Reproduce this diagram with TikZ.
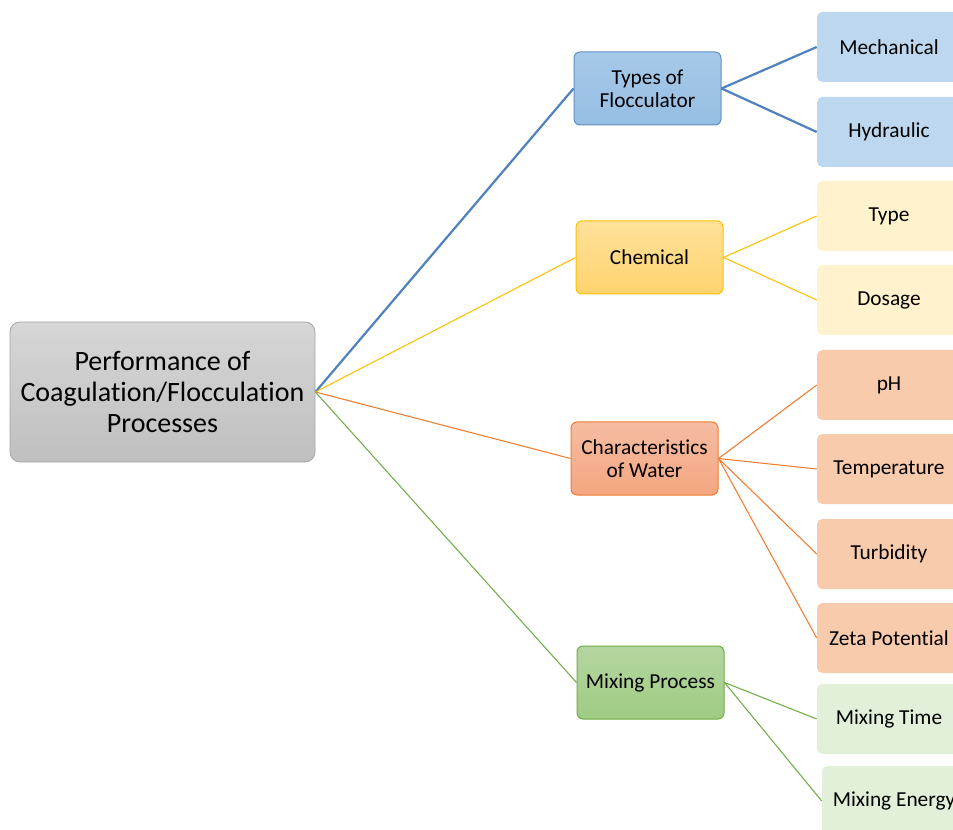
\documentclass[tikz,border=0pt]{standalone}
\usepackage{fontspec}
\setmainfont{Carlito}[Ligatures=NoCommon]
\usepackage{tikz}

\definecolor{rootline}{HTML}{A5A5A5}
\definecolor{blueline}{HTML}{4F81BD}
\definecolor{goldline}{HTML}{FFC000}
\definecolor{orangeline}{HTML}{ED7D31}
\definecolor{greenline}{HTML}{70AD47}

\tikzset{
  root/.style={draw=rootline,line width=0.6pt,rounded corners=7.5pt,top color=black!16,bottom color=black!25,
    minimum width=228.75pt,minimum height=105pt,inner sep=0pt,align=center,
    font=\fontsize{21}{23.3}\selectfont},
  branch/.style={line width=0.75pt,rounded corners=4.5pt,minimum width=110.25pt,minimum height=54.75pt,
    inner sep=0pt,align=center,font=\fontsize{16}{17.3}\selectfont},
  leaf/.style={rounded corners=4pt,minimum width=108pt,minimum height=52.5pt,
    inner sep=0pt,align=center,font=\fontsize{16}{17.3}\selectfont},
}

\begin{document}
\begin{tikzpicture}[x=0.75pt,y=0.75pt,yscale=-1,xscale=1]
\useasboundingbox (0,0) rectangle (953,830);

% Root
\node[root] (perf) at (162.5,392) {Performance of\\Coagulation/Flocculation\\Processes};

% Branches
\node[branch,draw=blueline!90,top color={rgb,255:red,167;green,201;blue,233},bottom color={rgb,255:red,150;green,190;blue,227}] (types) at (647.5,88.5) {Types of\\Flocculator};
\node[branch,draw=goldline,top color={rgb,255:red,255;green,225;blue,155},bottom color={rgb,255:red,255;green,211;blue,110}] (chem) at (649.5,257.5) {Chemical};
\node[branch,draw=orangeline,top color={rgb,255:red,246;green,188;blue,162},bottom color={rgb,255:red,244;green,166;blue,128}] (water) at (644.5,458.5) {Characteristics\\of Water};
\node[branch,draw=greenline,top color={rgb,255:red,181;green,214;blue,161},bottom color={rgb,255:red,158;green,203;blue,130}] (mixing) at (650.5,682.5) {Mixing Process};

% Leaves
\node[leaf,fill={rgb,255:red,189;green,215;blue,238}] (mech) at (889,47) {Mechanical};
\node[leaf,fill={rgb,255:red,189;green,215;blue,238}] (hydr) at (889,132) {Hydraulic};
\node[leaf,fill={rgb,255:red,255;green,242;blue,204}] (ctype) at (889,216) {Type};
\node[leaf,fill={rgb,255:red,255;green,242;blue,204}] (dose) at (889,300) {Dosage};
\node[leaf,fill={rgb,255:red,248;green,203;blue,173}] (ph) at (889,385) {pH};
\node[leaf,fill={rgb,255:red,248;green,203;blue,173}] (temp) at (889,469) {Temperature};
\node[leaf,fill={rgb,255:red,248;green,203;blue,173}] (turb) at (889,554) {Turbidity};
\node[leaf,fill={rgb,255:red,248;green,203;blue,173}] (zeta) at (889,638) {Zeta Potential};
\node[leaf,fill={rgb,255:red,226;green,240;blue,217}] (mtime) at (889,719) {Mixing Time};
\node[leaf,fill={rgb,255:red,226;green,240;blue,217}] (menergy) at (894,801) {Mixing Energy};

% Connectors
\draw[blueline,line width=1.65pt] (perf.east) -- (types.west);
\draw[goldline,line width=0.8pt] (perf.east) -- (chem.west);
\draw[orangeline,line width=0.8pt] (perf.east) -- (water.west);
\draw[greenline,line width=0.8pt] (perf.east) -- (mixing.west);

\draw[blueline,line width=1.65pt] (types.east) -- (mech.west);
\draw[blueline,line width=1.65pt] (types.east) -- (hydr.west);
\draw[goldline,line width=0.8pt] (chem.east) -- (ctype.west);
\draw[goldline,line width=0.8pt] (chem.east) -- (dose.west);
\draw[orangeline,line width=0.8pt] (water.east) -- (ph.west);
\draw[orangeline,line width=0.8pt] (water.east) -- (temp.west);
\draw[orangeline,line width=0.8pt] (water.east) -- (turb.west);
\draw[orangeline,line width=0.8pt] (water.east) -- (zeta.west);
\draw[greenline,line width=0.8pt] (mixing.east) -- (mtime.west);
\draw[greenline,line width=0.8pt] (mixing.east) -- (menergy.west);

\end{tikzpicture}
\end{document}
